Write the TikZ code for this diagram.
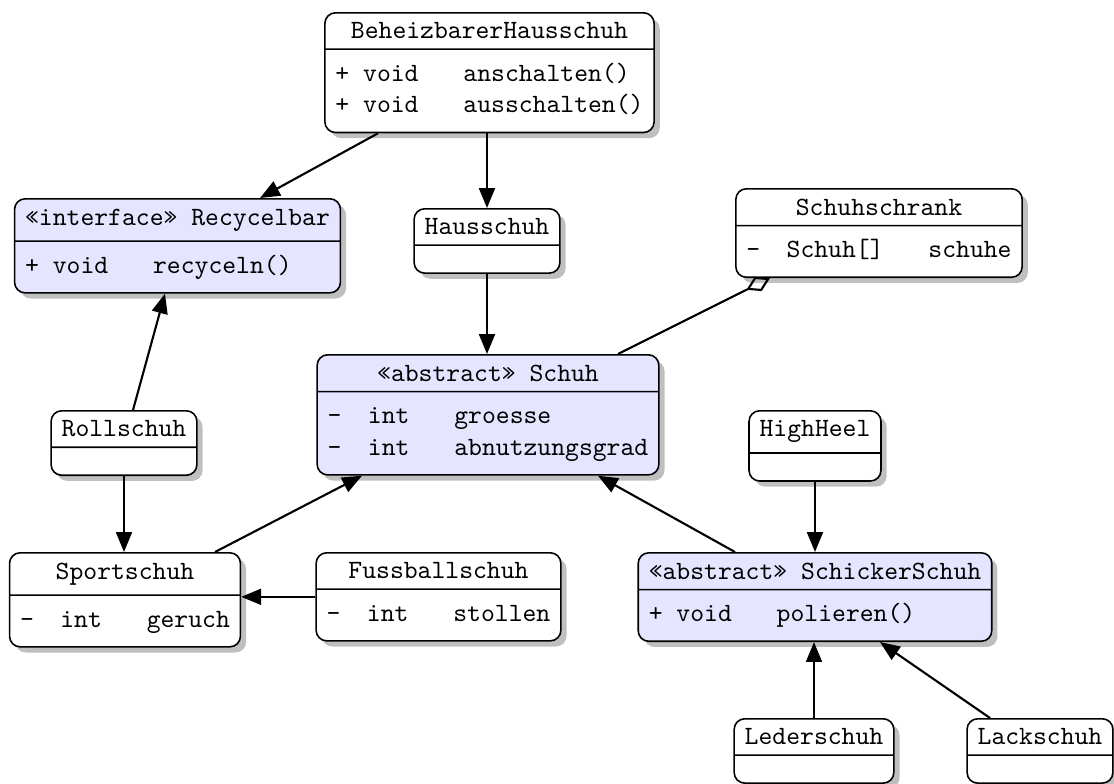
\documentclass[tikz,border=0pt]{standalone}
\usepackage{xcolor}
\usepackage{tikz}
\usetikzlibrary{shapes.multipart,shadows,arrows.meta,calc}
\begin{document}
\begin{tikzpicture}[x=0.379pt,y=-0.379pt,
  umlclass/.style={rectangle split, rectangle split parts=2,
    rectangle split part align={center,left}, draw, semithick,
    rounded corners=4pt, fill=white, drop shadow, font=\ttfamily,
    inner xsep=4pt, inner ysep=3.5pt, anchor=north},
  umlabstract/.style={umlclass, fill=blue!10},
  inherit/.style={-{Triangle[length=7.5pt,width=6pt]}, thick},
  aggreg/.style={{Diamond[open,length=10pt,width=6pt]}-, thick}]
\useasboundingbox (0,0) rectangle (1114,783);
\node [umlclass] (beh) at (489.5,12) {BeheizbarerHausschuh\nodepart{second}\begin{tabular}{@{}l@{\hspace{17pt}}l@{}}+ void & anschalten()\\+ void & ausschalten()\end{tabular}};
\node [umlabstract] (rec) at (177.5,198) {«interface» Recycelbar\nodepart{second}\begin{tabular}{@{}l@{\hspace{17pt}}l@{}}+ void & recyceln()\end{tabular}};
\node [umlclass] (haus) at (487,208) {Hausschuh\nodepart{second}\rule{0pt}{3pt}};
\node [umlclass] (schrank) at (879,188) {Schuhschrank\nodepart{second}\begin{tabular}{@{}l@{\hspace{10pt}}l@{\hspace{17pt}}l@{}}- & Schuh[] & schuhe\end{tabular}};
\node [umlabstract] (schuh) at (488,354) {«abstract» Schuh\nodepart{second}\begin{tabular}{@{}l@{\hspace{10pt}}l@{\hspace{17pt}}l@{}}- & int & groesse\\- & int & abnutzungsgrad\end{tabular}};
\node [umlclass] (roll) at (124,410) {Rollschuh\nodepart{second}\rule{0pt}{3pt}};
\node [umlclass] (high) at (815,410) {HighHeel\nodepart{second}\rule{0pt}{3pt}};
\node [umlclass] (sport) at (125,552) {Sportschuh\nodepart{second}\begin{tabular}{@{}l@{\hspace{10pt}}l@{\hspace{17pt}}l@{}}- & int & geruch\end{tabular}};
\node [umlclass] (fuss) at (438.5,552) {Fussballschuh\nodepart{second}\begin{tabular}{@{}l@{\hspace{10pt}}l@{\hspace{17pt}}l@{}}- & int & stollen\end{tabular}};
\node [umlabstract] (schicker) at (815,552) {«abstract» SchickerSchuh\nodepart{second}\begin{tabular}{@{}l@{\hspace{17pt}}l@{}}+ void & polieren()\end{tabular}};
\node [umlclass] (leder) at (814,718) {Lederschuh\nodepart{second}\rule{0pt}{3pt}};
\node [umlclass] (lack) at (1040,718) {Lackschuh\nodepart{second}\rule{0pt}{3pt}};
\draw [inherit] ($(beh.south)+(-111.5,0)$) -- ($(rec.north)+(82.5,0)$);
\draw [inherit] (beh.south -| haus.north) -- (haus.north);
\draw [inherit] (haus.south) -- (haus.south |- schuh.north);
\draw [aggreg] ($(schrank.south)+(-109,0)$) -- ($(schuh.north)+(130,0)$);
\draw [inherit] ($(roll.north)+(9,0)$) -- ($(rec.south)+(-12.5,0)$);
\draw [inherit] (roll.south) -- (roll.south |- sport.north);
\draw [inherit] ($(sport.north)+(90,0)$) -- ($(schuh.south)+(-126,0)$);
\draw [inherit] (fuss.west) -- (fuss.west -| sport.east);
\draw [inherit] ($(schicker.north)+(-80,0)$) -- ($(schuh.south)+(110,0)$);
\draw [inherit] (high.south) -- (high.south |- schicker.north);
\draw [inherit] (leder.north) -- (leder.north |- schicker.south);
\draw [inherit] ($(lack.north)+(-50,0)$) -- ($(schicker.south)+(65,0)$);
\end{tikzpicture}
\end{document}
